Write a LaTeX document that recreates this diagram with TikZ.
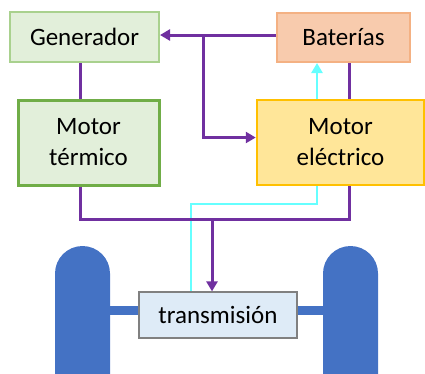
\documentclass[tikz,border=0pt]{standalone}
\usepackage{fontspec}
\setmainfont{Carlito}
\usetikzlibrary{arrows.meta}

\begin{document}
\begin{tikzpicture}[x=1pt,y=-1pt]
    % Define colours
    \definecolor{purpleLine}{HTML}{7030A0}
    \definecolor{cyanLine}{HTML}{66FFFF}
    \definecolor{greenFill}{HTML}{E2EFDA}
    \definecolor{greenBorder}{HTML}{A9D18E}
    \definecolor{greenDark}{HTML}{70AD47}
    \definecolor{orangeFill}{HTML}{F8CBAD}
    \definecolor{orangeBorder}{HTML}{F4B183}
    \definecolor{yellowFill}{HTML}{FFE699}
    \definecolor{yellowBorder}{HTML}{FFC000}
    \definecolor{blueFill}{HTML}{DEEBF7}
    \definecolor{wheelColour}{HTML}{4472C4}

    % Define styles
    \tikzset{
        block/.style={draw, line width=2pt, inner sep=0pt, align=center,
            font=\fontsize{25}{31}\selectfont},
        power/.style={draw=purpleLine, line width=3pt},
        charge/.style={draw=cyanLine, line width=2.5pt},
        tip/.style={-{Triangle[length=10pt,width=11pt]}}
    }

    % Fix the picture size
    \useasboundingbox (0,0) rectangle (425,373);
    \clip (0,0) rectangle (425,373);

    % Axle and wheels
    \fill[wheelColour] (100,306) rectangle (335,315);
    \fill[wheelColour, rounded corners=27.5pt] (55,246) rectangle (110,410);
    \fill[wheelColour, rounded corners=27.5pt] (323,246) rectangle (378,410);

    % Draw the blocks
    \node[block, fill=greenFill, draw=greenBorder, minimum width=149pt, minimum height=50pt]
        (gen) at (84.5,37) {Generador};
    \node[block, fill=orangeFill, draw=orangeBorder, minimum width=133pt, minimum height=49pt]
        (bat) at (343.5,37.5) {Baterías};
    \node[block, fill=greenFill, draw=greenDark, line width=3pt, minimum width=141pt, minimum height=85pt]
        (motT) at (88.5,142.5) {Motor\\térmico};
    \node[block, fill=yellowFill, draw=yellowBorder, line width=2.5pt, minimum width=167pt, minimum height=85pt]
        (motE) at (340.5,142.5) {Motor\\eléctrico};
    \node[block, fill=blueFill, draw=gray, line width=1.2pt, minimum width=158pt, minimum height=46pt]
        (trans) at (218,315) {transmisión};

    % Define the bend points
    \coordinate (split) at (203,35);
    \coordinate (leftBus) at (80,219);
    \coordinate (rightBus) at (349,219);
    \coordinate (drop) at (212,219);
    \coordinate (cyanA) at (317,204);
    \coordinate (cyanB) at (191,204);

    % Charging path
    \draw[charge, tip] (motE.north -| cyanA) -- (bat.south -| cyanA);
    \draw[charge] (motE.south -| cyanA) -- (cyanA) -- (cyanB) -- (trans.north -| cyanB);

    % Power paths
    \draw[power, tip] (bat.west |- split) -- (gen.east |- split);
    \draw[power, tip] (split) |- ([yshift=5pt]motE.west);
    \draw[power] (gen.south -| leftBus) -- (motT.north -| leftBus);
    \draw[power] (bat.south -| rightBus) -- (motE.north -| rightBus);
    \draw[power] (motT.south -| leftBus) -- (leftBus) -- (rightBus) -- (motE.south -| rightBus);
    \draw[power, tip] (drop) -- (trans.north -| drop);

\end{tikzpicture}
\end{document}
